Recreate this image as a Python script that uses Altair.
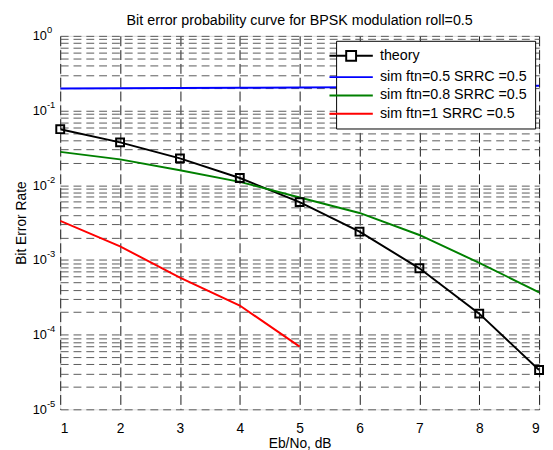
import altair as alt
import pandas as pd

# ---- data ----
ebno = [1, 2, 3, 4, 5, 6, 7, 8, 9]
theory = [0.0563, 0.0375, 0.0229, 0.0125, 0.00595, 0.00239, 0.000773, 0.000191, 3.36e-5]
sim_ftn05 = [0.198, 0.199, 0.200, 0.202, 0.204, 0.206, 0.209, 0.212, 0.215]
sim_ftn08 = [0.0280, 0.0222, 0.0159, 0.0111, 0.00686, 0.00426, 0.00216, 0.000914, 0.000368]
ebno_ftn1 = [1, 2, 3, 4, 5]
sim_ftn1 = [0.00334, 0.00152, 0.00058, 0.000245, 6.9e-5]

series_names = ["theory", "sim ftn=0.5 SRRC =0.5", "sim ftn=0.8 SRRC =0.5", "sim ftn=1 SRRC =0.5"]
series_colors = ["#000000", "#0000ff", "#008000", "#ff0000"]

x_ticks = [1, 2, 3, 4, 5, 6, 7, 8, 9]
y_decades = [1, 0.1, 0.01, 0.001, 0.0001, 0.00001]

rows = []
for s, xs, ys in [(series_names[0], ebno, theory),
                  (series_names[1], ebno, sim_ftn05),
                  (series_names[2], ebno, sim_ftn08),
                  (series_names[3], ebno_ftn1, sim_ftn1)]:
    for xv, yv in zip(xs, ys):
        rows.append({"x": xv, "ber": yv, "series": s})
df = pd.DataFrame(rows)
df_theory = df[df.series == series_names[0]]

# all y grid values (major + minor)
y_grid = []
for d in y_decades:
    for m in range(1, 10):
        v = d * m
        if v <= 1.0000001:
            y_grid.append(float("%.6g" % v))

e_expr = "round(log(datum.value)/LN10)"
is_decade = f"abs(log(datum.value)/LN10 - {e_expr}) < 0.001"
base_expr = f"{is_decade} ? '10' : ''"
exp_expr = f"{is_decade} ? ({e_expr} == 0 ? '0' : '-' + toString(-{e_expr})) : ''"

FONT = "Liberation Sans"

x_scale = alt.Scale(domain=[1, 9], nice=False, zero=False)
y_scale = alt.Scale(type="log", domain=[1e-5, 1], nice=False)
color_scale = alt.Scale(domain=series_names, range=series_colors)

x_axis = alt.Axis(values=x_ticks, grid=True, gridColor="#1a1a1a", gridDash=[10, 4], gridWidth=1,
                  ticks=False, domain=False, labelFont=FONT, labelFontSize=14, labelColor="black",
                  labelPadding=13, title="Eb/No, dB", titleFont=FONT, titleFontSize=14,
                  titleFontWeight="normal", titleColor="black", titlePadding=1, format="d")
y_axis = alt.Axis(values=y_grid, grid=True, gridColor="#5a5a5a", gridDash=[8, 5], gridWidth=1,
                  orient="left", ticks=False, domain=False, labelFont=FONT, labelFontSize=13,
                  labelColor="black", labelPadding=14, labelExpr=base_expr, labelOverlap=False,
                  title="Bit Error Rate", titleFont=FONT, titleFontSize=14,
                  titleFontWeight="normal", titleColor="black", titlePadding=4)
y_axis_exp = alt.Axis(values=y_decades, grid=False, orient="left", ticks=False, domain=False,
                      labelFont=FONT, labelFontSize=9.5, labelColor="black", labelAlign="left",
                      labelPadding=14, labelOffset=-6, labelExpr=exp_expr, labelOverlap=False,
                      title=None)

# one line layer per series, coloured by value
line_layers = []
for i, (name, col) in enumerate(zip(series_names, series_colors)):
    line_layers.append(
        alt.Chart(df).transform_filter(alt.datum.series == name)
        .mark_line(strokeWidth=2, clip=True, color=col).encode(
            x=alt.X("x:Q", scale=x_scale, axis=x_axis if i == 0 else alt.Undefined),
            y=alt.Y("ber:Q", scale=y_scale, axis=y_axis if i == 0 else None),
        )
    )

markers = alt.Chart(df_theory).mark_point(shape="square", size=64, filled=False, strokeWidth=2,
                                          color="black", opacity=1).encode(
    x=alt.X("x:Q", scale=x_scale),
    y=alt.Y("ber:Q", scale=y_scale, axis=y_axis_exp),
)

# legend glyphs: line with hollow square for theory, plain line for the others
theory_path = "M-5.6,0M-4.4,0H-1M-1,-1H1V1H-1ZM1,0H4.4"
line_path = "M-5.6,0M-4.4,0H4.4"
shape_scale = alt.Scale(domain=series_names, range=[theory_path, line_path, line_path, line_path])

leg = alt.Legend(orient="none", legendX=280, legendY=5, title=None, strokeColor="black",
                 fillColor="white", padding=8, labelFont=FONT, labelFontSize=14.5,
                 labelColor="black", symbolStrokeWidth=2, symbolSize=100, labelOffset=22,
                 rowPadding=3.6, cornerRadius=0, symbolOpacity=1, symbolFillColor="transparent")

# invisible point layer that only carries the legend
legend_layer = alt.Chart(df_theory).mark_point(
    filled=False, strokeWidth=2, size=100, opacity=0).encode(
    x=alt.X("x:Q", scale=x_scale),
    y=alt.Y("ber:Q", scale=y_scale, axis=None),
    color=alt.Color("series:N", scale=color_scale, legend=leg),
    shape=alt.Shape("series:N", scale=shape_scale, legend=leg),
)

chart = alt.layer(*line_layers, markers, legend_layer).resolve_axis(y="independent").properties(
    width=486, height=379,
    autosize=alt.AutoSizeParams(type="none"),
    padding={"left": 53, "top": 25, "right": 6, "bottom": 38},
    title=alt.TitleParams("Bit error probability curve for BPSK modulation roll=0.5",
                          font=FONT, fontSize=14.5, fontWeight="normal", color="black",
                          anchor="middle", offset=-3),
).configure_view(stroke="black", strokeWidth=1).configure(background="white")

chart.save("out.html", embed_options={"renderer": "svg", "actions": False})
